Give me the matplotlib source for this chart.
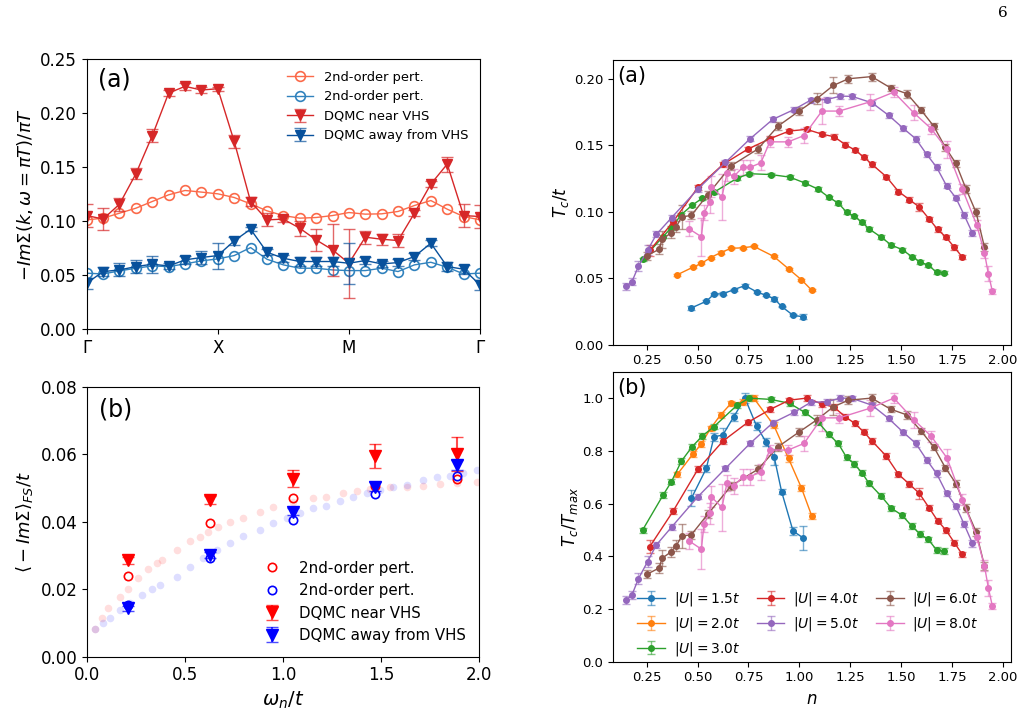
import numpy as np
import matplotlib
matplotlib.use("Agg")
import matplotlib.pyplot as plt
from matplotlib.colors import to_rgba

# ---------------- data: left (a) ----------------
k_ticks = ["Γ", "X", "M", "Γ"]
k_index = list(range(25))
pert_near = [0.1012, 0.1028, 0.1074, 0.1120, 0.1182, 0.1244, 0.1284, 0.1269, 0.1253, 0.1219, 0.1160, 0.1096, 0.1052,
             0.1028, 0.1034, 0.1052, 0.1080, 0.1065, 0.1068, 0.1090, 0.1145, 0.1191, 0.1111, 0.1043, 0.1012]
pert_away = [0.0519, 0.0512, 0.0540, 0.0565, 0.0586, 0.0580, 0.0605, 0.0633, 0.0651, 0.0682, 0.0756, 0.0648, 0.0596,
             0.0565, 0.0565, 0.0549, 0.0543, 0.0543, 0.0565, 0.0534, 0.0596, 0.0620, 0.0574, 0.0512, 0.0519]
dqmc_near = [0.1052, 0.1020, 0.1157, 0.1438, 0.1790, 0.2185, 0.2247, 0.2213, 0.2225, 0.1738, 0.1182, 0.1012, 0.1019,
             0.0935, 0.0827, 0.0735, 0.0611, 0.0852, 0.0833, 0.0821, 0.1074, 0.1343, 0.1528, 0.1052, 0.1043]
dqmc_near_err = [0.011, 0.010, 0.006, 0.005, 0.006, 0.003, 0.003, 0.003, 0.002, 0.006, 0.004, 0.006, 0.003,
                 0.007, 0.010, 0.024, 0.032, 0.006, 0.005, 0.006, 0.003, 0.003, 0.007, 0.011, 0.011]
dqmc_away = [0.0426, 0.0534, 0.0549, 0.0580, 0.0602, 0.0586, 0.0642, 0.0664, 0.0682, 0.0818, 0.0926, 0.0713, 0.0657,
             0.0627, 0.0627, 0.0627, 0.0611, 0.0636, 0.0605, 0.0617, 0.0673, 0.0796, 0.0580, 0.0556, 0.0410]
dqmc_away_err = [0.005, 0.004, 0.006, 0.006, 0.008, 0.003, 0.004, 0.006, 0.012, 0.004, 0.002, 0.003, 0.003,
                 0.004, 0.004, 0.004, 0.019, 0.003, 0.003, 0.003, 0.003, 0.003, 0.004, 0.004, 0.005]

# ---------------- data: left (b) ----------------
omega_n = [0.209, 0.628, 1.047, 1.466, 1.885]
b_pert_near = [0.0240, 0.0395, 0.0471, 0.0505, 0.0527]
b_pert_away = [0.0153, 0.0293, 0.0405, 0.0482, 0.0536]
b_dqmc_near = [0.0286, 0.0464, 0.0527, 0.0595, 0.0600]
b_dqmc_near_err = [0.0010, 0.0012, 0.0025, 0.0035, 0.0050]
b_dqmc_away = [0.0143, 0.0301, 0.0430, 0.0504, 0.0568]
b_dqmc_away_err = [0.0008, 0.0008, 0.0010, 0.0013, 0.0015]
faint_red_x = [0.039, 0.073, 0.107, 0.167, 0.209, 0.260, 0.311, 0.354, 0.379, 0.456, 0.524, 0.575, 0.617, 0.668,
               0.728, 0.796, 0.880, 0.949, 1.050, 1.153, 1.220, 1.306, 1.374, 1.442, 1.544, 1.630, 1.714, 1.800,
               1.884, 1.986]
faint_red_y = [0.0081, 0.0114, 0.0143, 0.0178, 0.0202, 0.0232, 0.0259, 0.0279, 0.0286, 0.0316, 0.0344, 0.0356,
               0.0370, 0.0385, 0.0400, 0.0410, 0.0430, 0.0444, 0.0459, 0.0471, 0.0474, 0.0484, 0.0492, 0.0497,
               0.0504, 0.0504, 0.0507, 0.0512, 0.0514, 0.0519]
faint_blue_x = [0.039, 0.082, 0.116, 0.167, 0.218, 0.277, 0.328, 0.371, 0.456, 0.524, 0.592, 0.660, 0.728, 0.796,
                0.880, 0.949, 1.017, 1.085, 1.153, 1.220, 1.289, 1.357, 1.425, 1.493, 1.561, 1.629, 1.714, 1.782,
                1.850, 1.918, 1.986]
faint_blue_y = [0.0081, 0.0101, 0.0114, 0.0138, 0.0160, 0.0183, 0.0202, 0.0212, 0.0237, 0.0267, 0.0293, 0.0316,
                0.0338, 0.0359, 0.0375, 0.0397, 0.0410, 0.0425, 0.0440, 0.0446, 0.0462, 0.0474, 0.0484, 0.0494,
                0.0502, 0.0509, 0.0523, 0.0531, 0.0535, 0.0545, 0.0553]

# ---------------- data: right ----------------
U_labels = [r"$|U|=1.5t$", r"$|U|=2.0t$", r"$|U|=3.0t$", r"$|U|=4.0t$",
            r"$|U|=5.0t$", r"$|U|=6.0t$", r"$|U|=8.0t$"]
tc_max = [0.0444, 0.0739, 0.1286, 0.1620, 0.1870, 0.2017, 0.1900]

n_u15 = [0.470, 0.543, 0.581, 0.624, 0.678, 0.733, 0.790, 0.836, 0.877, 0.913, 0.969, 1.018]
r_u15 = [0.620, 0.733, 0.853, 0.860, 0.929, 1.000, 0.894, 0.834, 0.775, 0.645, 0.496, 0.470]
e_u15 = [0.030, 0.015, 0.015, 0.025, 0.015, 0.020, 0.015, 0.015, 0.030, 0.010, 0.015, 0.045]

n_u20 = [0.401, 0.478, 0.519, 0.564, 0.613, 0.665, 0.722, 0.776, 0.874, 0.947, 1.010, 1.061]
r_u20 = [0.711, 0.788, 0.826, 0.885, 0.936, 0.980, 0.985, 1.000, 0.898, 0.771, 0.660, 0.553]
e_u20 = [0.010, 0.010, 0.010, 0.010, 0.012, 0.010, 0.010, 0.010, 0.010, 0.012, 0.012, 0.012]

n_u30 = [0.230, 0.331, 0.372, 0.421, 0.473, 0.523, 0.580, 0.694, 0.754, 0.860, 0.953, 1.026, 1.091, 1.145,
         1.191, 1.232, 1.270, 1.307, 1.342, 1.400, 1.452, 1.504, 1.552, 1.593, 1.633, 1.674, 1.711]
r_u30 = [0.499, 0.632, 0.683, 0.761, 0.815, 0.856, 0.891, 0.973, 1.000, 0.995, 0.980, 0.946, 0.910, 0.862,
         0.828, 0.775, 0.750, 0.717, 0.677, 0.630, 0.582, 0.556, 0.515, 0.484, 0.464, 0.424, 0.420]
e_u30 = [0.010] * 27

n_u40 = [0.266, 0.380, 0.502, 0.625, 0.747, 0.857, 0.950, 1.036, 1.113, 1.170, 1.226, 1.272, 1.316, 1.357,
         1.427, 1.487, 1.541, 1.589, 1.637, 1.679, 1.720, 1.762, 1.799]
r_u40 = [0.437, 0.571, 0.730, 0.837, 0.908, 0.957, 0.992, 1.000, 0.977, 0.966, 0.929, 0.904, 0.872, 0.837,
         0.780, 0.711, 0.673, 0.639, 0.584, 0.535, 0.499, 0.451, 0.408]
e_u40 = [0.025, 0.012, 0.012, 0.012, 0.010, 0.010, 0.010, 0.010, 0.010, 0.012, 0.010, 0.010, 0.010, 0.010,
         0.010, 0.010, 0.012, 0.020, 0.010, 0.010, 0.010, 0.010, 0.010]

n_u50 = [0.151, 0.178, 0.210, 0.255, 0.298, 0.373, 0.502, 0.637, 0.758, 0.869, 0.974, 1.056, 1.134, 1.202,
         1.259, 1.357, 1.438, 1.511, 1.572, 1.626, 1.674, 1.723, 1.769, 1.809, 1.850]
r_u50 = [0.234, 0.253, 0.315, 0.380, 0.443, 0.511, 0.626, 0.733, 0.828, 0.906, 0.946, 0.984, 0.986, 1.000,
         0.999, 0.973, 0.923, 0.870, 0.828, 0.765, 0.714, 0.639, 0.590, 0.522, 0.449]
e_u50 = [0.015, 0.015, 0.020, 0.020, 0.012, 0.012, 0.010, 0.010, 0.010, 0.010, 0.010, 0.010, 0.010, 0.010,
         0.010, 0.010, 0.010, 0.010, 0.012, 0.010, 0.012, 0.010, 0.010, 0.012, 0.012]

n_u60 = [0.250, 0.313, 0.325, 0.369, 0.396, 0.422, 0.470, 0.550, 0.665, 0.797, 0.895, 1.000, 1.085, 1.167,
         1.241, 1.355, 1.448, 1.529, 1.598, 1.660, 1.717, 1.769, 1.818, 1.868, 1.909]
r_u60 = [0.331, 0.356, 0.392, 0.416, 0.440, 0.476, 0.482, 0.559, 0.667, 0.730, 0.815, 0.872, 0.917, 0.967,
         0.992, 1.000, 0.958, 0.936, 0.875, 0.815, 0.736, 0.676, 0.582, 0.493, 0.364]
e_u60 = [0.015, 0.020, 0.030, 0.020, 0.020, 0.045, 0.015, 0.015, 0.015, 0.015, 0.015, 0.015, 0.020, 0.030,
         0.015, 0.015, 0.012, 0.015, 0.012, 0.012, 0.012, 0.012, 0.015, 0.015, 0.015]

n_u80 = [0.457, 0.519, 0.532, 0.559, 0.567, 0.620, 0.645, 0.678, 0.722, 0.758, 0.811, 0.855, 0.945, 1.023,
         1.111, 1.196, 1.345, 1.464, 1.562, 1.648, 1.725, 1.801, 1.871, 1.909, 1.928, 1.948]
r_u80 = [0.459, 0.427, 0.522, 0.563, 0.626, 0.585, 0.679, 0.666, 0.702, 0.702, 0.720, 0.803, 0.803, 0.828,
         0.925, 0.925, 0.961, 1.000, 0.918, 0.855, 0.773, 0.615, 0.474, 0.364, 0.281, 0.211]
e_u80 = [0.030, 0.075, 0.030, 0.040, 0.040, 0.090, 0.030, 0.030, 0.030, 0.030, 0.030, 0.020, 0.020, 0.030,
         0.050, 0.020, 0.030, 0.020, 0.030, 0.020, 0.035, 0.020, 0.020, 0.020, 0.030, 0.010]

series_n = [n_u15, n_u20, n_u30, n_u40, n_u50, n_u60, n_u80]
series_r = [r_u15, r_u20, r_u30, r_u40, r_u50, r_u60, r_u80]
series_e = [e_u15, e_u20, e_u30, e_u40, e_u50, e_u60, e_u80]
series_colors = ["C0", "C1", "C2", "C3", "C4", "C5", "C6"]

# ---------------- figure ----------------
W, H = 1027, 720
fig = plt.figure(figsize=(W / 100, H / 100), dpi=100)


def ax_px(l, t, r, b):
    return fig.add_axes([l / W, 1 - b / H, (r - l) / W, (b - t) / H])


c_pert_near = "#fb6a4a"
c_pert_away = "#3182bd"
c_dqmc_near = "#d62728"
c_dqmc_away = "#08519c"

# ---- top-left
ax1 = ax_px(86.7, 59, 480, 329.3)
ax1.plot(k_index, pert_near, "-o", color=c_pert_near, mfc="none", ms=7, lw=1, mew=1.2, label="2nd-order pert.")
ax1.plot(k_index, pert_away, "-o", color=c_pert_away, mfc="none", ms=7, lw=1, mew=1.2, label="2nd-order pert.")
ax1.errorbar(k_index, dqmc_near, yerr=dqmc_near_err, fmt="-v", color=c_dqmc_near, ms=7, lw=1,
             ecolor=to_rgba(c_dqmc_near, 0.7), capsize=4, label="DQMC near VHS")
ax1.errorbar(k_index, dqmc_away, yerr=dqmc_away_err, fmt="-v", color=c_dqmc_away, ms=7, lw=1,
             ecolor=to_rgba(c_dqmc_away, 0.7), capsize=4, label="DQMC away from VHS")
ax1.set_xlim(0, 24)
ax1.set_ylim(0, 0.25)
ax1.set_xticks([0, 8, 16, 24])
ax1.set_xticklabels(k_ticks)
ax1.set_yticks([0, 0.05, 0.10, 0.15, 0.20, 0.25])
ax1.tick_params(labelsize=12)
ax1.set_ylabel(r"$-Im\Sigma(k,\omega=\pi T)/\pi T$", fontsize=13)
ax1.text(0.03, 0.97, "(a)", transform=ax1.transAxes, fontsize=17, va="top", ha="left")
ax1.legend(loc="upper right", frameon=False, fontsize=9.4)

# ---- bottom-left
ax2 = ax_px(87.3, 386.7, 479.3, 656.7)
ax2.plot(faint_red_x, faint_red_y, "o", color="red", alpha=0.13, ms=5.5, mec="none")
ax2.plot(faint_blue_x, faint_blue_y, "o", color="blue", alpha=0.13, ms=5.5, mec="none")
ax2.plot(omega_n, b_pert_near, "o", color="red", mfc="none", ms=6, mew=1.2, label="2nd-order pert.")
ax2.plot(omega_n, b_pert_away, "o", color="blue", mfc="none", ms=6, mew=1.2, label="2nd-order pert.")
ax2.errorbar(omega_n, b_dqmc_near, yerr=b_dqmc_near_err, fmt="v", color="red", ms=8,
             ecolor=to_rgba("red", 0.7), capsize=4, label="DQMC near VHS")
ax2.errorbar(omega_n, b_dqmc_away, yerr=b_dqmc_away_err, fmt="v", color="blue", ms=8,
             ecolor=to_rgba("blue", 0.7), capsize=4, label="DQMC away from VHS")
ax2.set_xlim(0, 2.0)
ax2.set_ylim(0, 0.08)
ax2.set_xticks([0, 0.5, 1.0, 1.5, 2.0])
ax2.set_yticks([0, 0.02, 0.04, 0.06, 0.08])
ax2.tick_params(labelsize=12)
ax2.set_xlabel(r"$\omega_n/t$", fontsize=14)
ax2.set_ylabel(r"$\langle -Im\Sigma\rangle_{FS}/t$", fontsize=13)
ax2.text(0.03, 0.96, "(b)", transform=ax2.transAxes, fontsize=17, va="top", ha="left")
ax2.legend(loc="lower right", frameon=False, fontsize=10.8, bbox_to_anchor=(1.0, 0.0))

# ---- right column
ax3 = ax_px(613, 60, 1010.7, 344.5)
ax4 = ax_px(613, 372, 1010.7, 661.7)
for n_vals, r_vals, e_vals, col, lab, tm in zip(series_n, series_r, series_e, series_colors, U_labels, tc_max):
    n_arr = np.array(n_vals)
    r_arr = np.array(r_vals)
    e_arr = np.array(e_vals)
    ax3.errorbar(n_arr, r_arr * tm, yerr=e_arr * tm, fmt="-o", color=col, ms=4, lw=1,
                 ecolor=to_rgba(col, 0.6), capsize=3, label=lab)
    ax4.errorbar(n_arr, r_arr, yerr=e_arr, fmt="-o", color=col, ms=4, lw=1,
                 ecolor=to_rgba(col, 0.6), capsize=3, label=lab)

for ax in (ax3, ax4):
    ax.set_xlim(0.085, 2.038)
    ax.set_xticks([0.25, 0.5, 0.75, 1.0, 1.25, 1.5, 1.75, 2.0])
    ax.tick_params(labelsize=9.5)
ax3.set_ylim(0, 0.2142)
ax3.set_yticks([0.0, 0.05, 0.10, 0.15, 0.20])
ax4.set_ylim(0, 1.099)
ax4.set_yticks([0.0, 0.2, 0.4, 0.6, 0.8, 1.0])
ax3.set_ylabel(r"$T_c/t$", fontsize=12, labelpad=2)
ax4.set_ylabel(r"$T_c/T_{max}$", fontsize=12, labelpad=2)
ax4.set_xlabel(r"$n$", fontsize=12)
ax3.text(0.01, 0.98, "(a)", transform=ax3.transAxes, fontsize=15, va="top", ha="left")
ax4.text(0.01, 0.98, "(b)", transform=ax4.transAxes, fontsize=15, va="top", ha="left")
ax4.legend(loc="lower left", ncol=3, frameon=False, fontsize=10, bbox_to_anchor=(0.03, -0.03),
           columnspacing=1.2, handletextpad=0.6)

fig.text(1003 / W, 1 - 13 / H, "6", fontsize=11, family="DejaVu Serif", ha="center", va="center")

fig.savefig("out.png", dpi=100)
